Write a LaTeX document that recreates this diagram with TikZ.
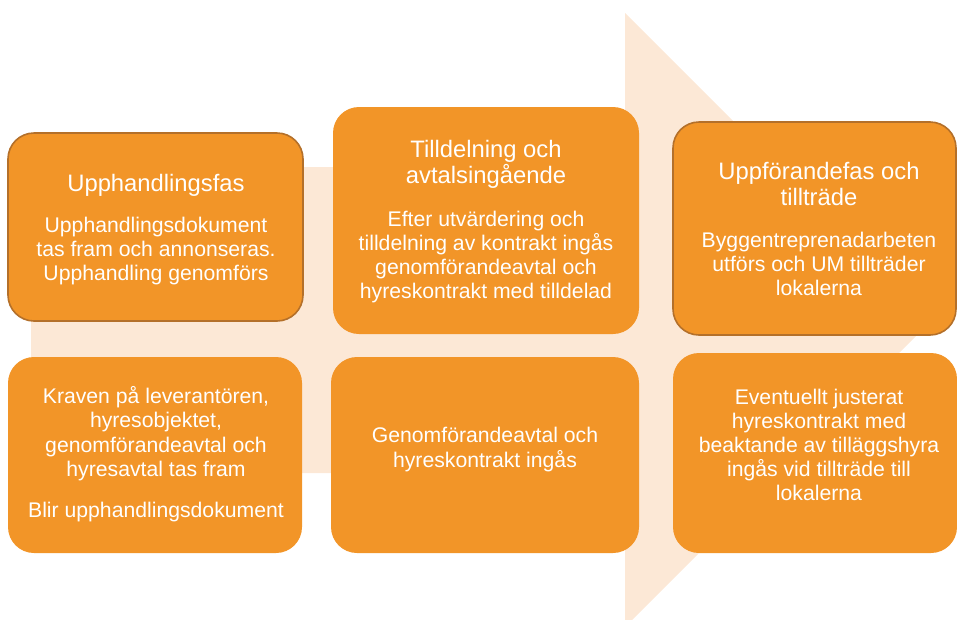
\documentclass[tikz,border=0pt]{standalone}
\usepackage{fontspec}
\setmainfont{Liberation Sans}
\definecolor{boxor}{HTML}{F29528}
\definecolor{peach}{HTML}{FCE8D6}
\definecolor{edgebr}{HTML}{B4702A}
\begin{document}
\begin{tikzpicture}[x=1pt,y=-1pt,
 card/.style={fill=boxor, rounded corners=26pt, inner sep=0pt, outer sep=0pt},
 cardedge/.style={card, draw=edgebr, line width=1.6pt},
 headtxt/.style={text=white, font=\fontsize{23.8}{27}\selectfont, anchor=base, inner sep=0pt},
 bodytxt/.style={text=white, font=\fontsize{21.2}{24}\selectfont, anchor=base, inner sep=0pt}]
\useasboundingbox (0,0) rectangle (957,619);
% big background arrow
\fill[peach] (31,167) -- (625,167) -- (625,13) -- (932,320) -- (625,627) -- (625,473) -- (31,473) -- cycle;
% boxes
\node[cardedge, minimum width=295pt, minimum height=188pt] (b1) at (155.5,227) {};
\node[card, minimum width=306pt, minimum height=227pt] (b2) at (486,220.5) {};
\node[cardedge, minimum width=283pt, minimum height=213pt] (b3) at (814.5,228.5) {};
\node[card, minimum width=294pt, minimum height=196pt] (b4) at (155,455) {};
\node[card, minimum width=308pt, minimum height=196pt] (b5) at (485,455) {};
\node[card, minimum width=284pt, minimum height=200pt] (b6) at (815,453) {};
% box 1
\node[headtxt] (t1a) at (156,191) {Upphandlingsfas};
\node[bodytxt] (t1b) at (156,232) {Upphandlingsdokument};
\node[bodytxt] (t1c) at (156,256) {tas fram och annonseras.};
\node[bodytxt] (t1d) at (156,280) {Upphandling genomförs};
% box 2
\node[headtxt] (t2a) at (486,157) {Tilldelning och};
\node[headtxt] (t2b) at (486,183) {avtalsingående};
\node[bodytxt] (t2c) at (486,226) {Efter utvärdering och};
\node[bodytxt] (t2d) at (486,250) {tilldelning av kontrakt ingås};
\node[bodytxt] (t2e) at (486,274) {genomförandeavtal och};
\node[bodytxt] (t2f) at (486,298) {hyreskontrakt med tilldelad};
% box 3
\node[headtxt] (t3a) at (819,179) {Uppförandefas och};
\node[headtxt] (t3b) at (819,205) {tillträde};
\node[bodytxt] (t3c) at (819,247) {Byggentreprenadarbeten};
\node[bodytxt] (t3d) at (819,271) {utförs och UM tillträder};
\node[bodytxt] (t3e) at (819,295) {lokalerna};
% box 4
\node[bodytxt] (t4a) at (156,403) {Kraven på leverantören,};
\node[bodytxt] (t4b) at (156,427) {hyresobjektet,};
\node[bodytxt] (t4c) at (156,452) {genomförandeavtal och};
\node[bodytxt] (t4d) at (156,476) {hyresavtal tas fram};
\node[bodytxt] (t4e) at (156,517) {Blir upphandlingsdokument};
% box 5
\node[bodytxt] (t5a) at (485,442) {Genomförandeavtal och};
\node[bodytxt] (t5b) at (485,467) {hyreskontrakt ingås};
% box 6
\node[bodytxt] (t6a) at (819,404) {Eventuellt justerat};
\node[bodytxt] (t6b) at (819,428) {hyreskontrakt med};
\node[bodytxt] (t6c) at (819,452) {beaktande av tilläggshyra};
\node[bodytxt] (t6d) at (819,476) {ingås vid tillträde till};
\node[bodytxt] (t6e) at (819,500) {lokalerna};
\end{tikzpicture}
\end{document}
